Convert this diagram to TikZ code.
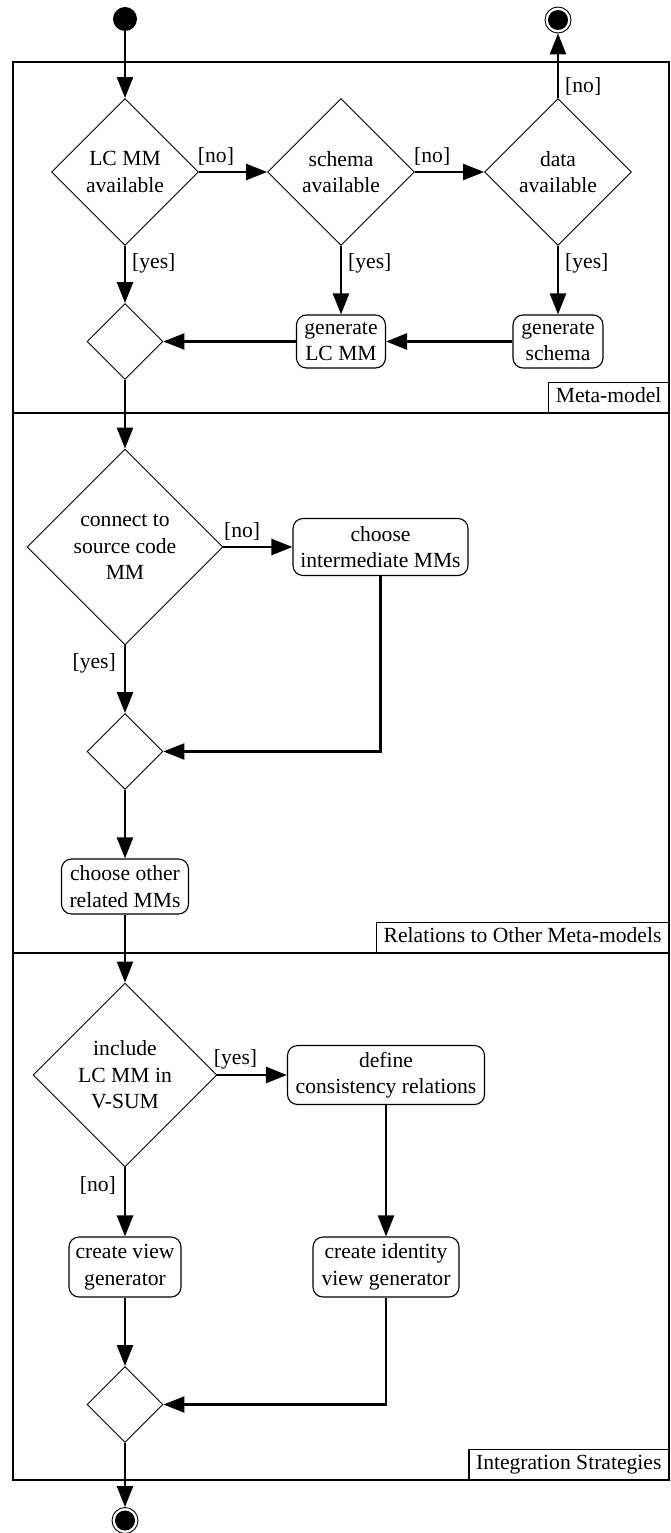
\documentclass[tikz,border=0pt]{standalone}
\usepackage{fontspec}
\setmainfont{Liberation Serif}
\usetikzlibrary{shapes.geometric,arrows.meta}
\begin{document}
\begin{tikzpicture}[x=1pt,y=-1pt,
  every node/.style={font=\fontsize{21.6}{26.5}\selectfont},
  action/.style={draw, line width=1.1pt, rounded corners=10pt, align=center,
    inner xsep=4pt, inner ysep=0pt},
  decision/.style={draw, diamond, aspect=1, line width=0.9pt, align=center, inner sep=0pt},
  initial/.style={circle, fill=black, minimum size=24pt, inner sep=0pt},
  final/.style={circle, draw, line width=0.9pt, minimum size=26pt, inner sep=0pt,
    path picture={\fill[black] (path picture bounding box.center) circle (10pt);}},
  flow/.style={line width=2.4pt, -{Triangle[length=21pt,width=16pt]}},
  guard/.style={inner sep=1pt},
  lane/.style={line width=1.2pt},
  lanetitle/.style={draw, line width=1.2pt, anchor=south east, fill=white,
    inner xsep=7pt, inner ysep=5pt, text height=15pt, text depth=5pt}
]
\useasboundingbox (0,0) rectangle (671,1533);

% swimlane frames
\coordinate (laneA-nw) at (13,62);
\coordinate (laneA-se) at (669,413);
\coordinate (laneB-nw) at (13,413);
\coordinate (laneB-se) at (669,953);
\coordinate (laneC-nw) at (13,953);
\coordinate (laneC-se) at (669,1480);
\draw[lane] (laneA-nw) rectangle (laneA-se);
\draw[lane] (laneB-nw) rectangle (laneB-se);
\draw[lane] (laneC-nw) rectangle (laneC-se);
\node[lanetitle] (titleA) at (laneA-se) {Meta-model};
\node[lanetitle] (titleB) at (laneB-se) {Relations to Other Meta-models};
\node[lanetitle] (titleC) at (laneC-se) {Integration Strategies};

% start / end
\node[initial] (start) at (125,19) {};
\node[final] (endA) at (558,20) {};
\node[final] (endB) at (125,1520.5) {};

% meta-model lane
\node[decision, minimum width=147pt, minimum height=147pt] (lcmm) at (125,172) {LC MM\\available};
\node[decision, minimum width=147pt, minimum height=147pt] (schema) at (341,172) {schema\\available};
\node[decision, minimum width=147pt, minimum height=147pt] (data) at (558,172) {data\\available};
\node[decision, minimum width=76pt, minimum height=76pt] (mergeA) at (125,341.5) {};
\node[action, minimum width=89pt, minimum height=53pt] (genlc) at (341,341.5) {generate\\LC MM};
\node[action, minimum width=90pt, minimum height=53pt] (genschema) at (558,341.5) {generate\\schema};

% relations lane
\node[decision, minimum width=196pt, minimum height=196pt] (connect) at (125,547) {connect to\\source code\\MM};
\node[action, minimum width=175pt, minimum height=57pt] (interm) at (380.5,547) {choose\\intermediate MMs};
\node[decision, minimum width=76pt, minimum height=76pt] (mergeB) at (125,751.5) {};
\node[action, minimum width=127pt, minimum height=55pt] (other) at (125,886.5) {choose other\\related MMs};

% integration lane
\node[decision, minimum width=184pt, minimum height=184pt] (include) at (125,1075) {include\\LC MM in\\V-SUM};
\node[action, minimum width=197pt, minimum height=59pt] (define) at (386,1075) {define\\consistency relations};
\node[action, minimum width=112pt, minimum height=60pt] (viewgen) at (125,1267) {create view\\generator};
\node[action, minimum width=146pt, minimum height=60pt] (idgen) at (386,1267) {create identity\\view generator};
\node[decision, minimum width=76pt, minimum height=76pt] (mergeC) at (125,1404.5) {};

% control flow
\draw[flow] (start) -- (lcmm.north);
\draw[flow] (lcmm.east) -- node[guard, pos=0.25, anchor=south, yshift=4pt] {[no]} (schema.west);
\draw[flow] (schema.east) -- node[guard, pos=0.25, anchor=south, yshift=4pt] {[no]} (data.west);
\draw[flow] (data.north) -- node[guard, pos=0.18, anchor=west, xshift=5pt] {[no]} (endA);
\draw[flow] (lcmm.south) -- node[guard, pos=0.3, anchor=west, xshift=5pt] {[yes]} (mergeA.north);
\draw[flow] (schema.south) -- node[guard, pos=0.26, anchor=west, xshift=5pt] {[yes]} (genlc.north);
\draw[flow] (data.south) -- node[guard, pos=0.26, anchor=west, xshift=5pt] {[yes]} (genschema.north);
\draw[flow] (genschema.west) -- (genlc.east);
\draw[flow] (genlc.west) -- (mergeA.east);
\draw[flow] (mergeA.south) -- (connect.north);

\draw[flow] (connect.east) -- node[guard, pos=0.27, anchor=south, yshift=4pt] {[no]} (interm.west);
\draw[flow] (connect.south) -- node[guard, pos=0.26, anchor=east, xshift=-7pt] {[yes]} (mergeB.north);
\draw[flow] (interm.south) |- (mergeB.east);
\draw[flow] (mergeB.south) -- (other.north);
\draw[flow] (other.south) -- (include.north);

\draw[flow] (include.east) -- node[guard, pos=0.26, anchor=south, yshift=4pt] {[yes]} (define.west);
\draw[flow] (include.south) -- node[guard, pos=0.26, anchor=east, xshift=-7pt] {[no]} (viewgen.north);
\draw[flow] (define.south) -- (idgen.north);
\draw[flow] (viewgen.south) -- (mergeC.north);
\draw[flow] (idgen.south) |- (mergeC.east);
\draw[flow] (mergeC.south) -- (endB);
\end{tikzpicture}
\end{document}
